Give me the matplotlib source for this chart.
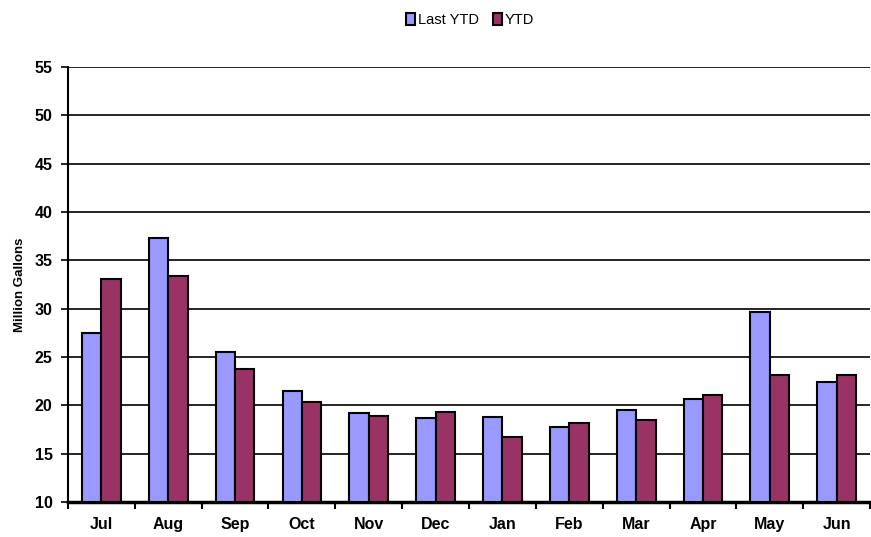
import numpy as np
import matplotlib.pyplot as plt
from matplotlib.patches import Patch

plt.rcParams['font.family'] = ['Liberation Sans', 'DejaVu Sans']

months = ['Jul', 'Aug', 'Sep', 'Oct', 'Nov', 'Dec', 'Jan', 'Feb', 'Mar', 'Apr', 'May', 'Jun']
last_ytd = [27.5, 37.3, 25.5, 21.5, 19.2, 18.7, 18.8, 17.8, 19.5, 20.7, 29.7, 22.4]
ytd = [33.1, 33.4, 23.8, 20.4, 18.9, 19.3, 16.7, 18.2, 18.5, 21.1, 23.1, 23.1]
yticks = [10, 15, 20, 25, 30, 35, 40, 45, 50, 55]

fig = plt.figure(figsize=(8.71, 5.37), dpi=100)
ax = fig.add_axes([0.078, 0.065, 0.921, 0.81])

x = np.arange(len(months))
w = 0.29
ax.bar(x - w / 2, np.array(last_ytd) - 10, w, bottom=10, color='#9999FF',
       edgecolor='black', linewidth=1.5, zorder=3)
ax.bar(x + w / 2, np.array(ytd) - 10, w, bottom=10, color='#993366',
       edgecolor='black', linewidth=1.5, zorder=3)

ax.set_xlim(-0.5, len(months) - 0.5)
ax.set_ylim(10, 55)
ax.set_yticks(yticks)
ax.set_yticklabels([str(t) for t in yticks], fontweight='bold', fontsize=11.5)
ax.yaxis.grid(True, color='black', linewidth=1.2, zorder=0)

# month names in the middle, tick marks between the categories
ax.set_xticks(np.arange(len(months) + 1) - 0.5)
ax.set_xticklabels([])
ax.set_xticks(x, minor=True)
ax.set_xticklabels(months, minor=True, fontweight='bold', fontsize=11.5)
ax.tick_params(axis='x', which='minor', length=0, pad=11)
ax.tick_params(axis='x', which='major', length=5, width=1.5, direction='out')
ax.tick_params(axis='y', length=5, width=1.2, direction='out', pad=6)

for s in ['top', 'right']:
    ax.spines[s].set_visible(False)
ax.spines['left'].set_linewidth(1.5)
ax.spines['bottom'].set_linewidth(2.5)

ax.set_ylabel('Million Gallons', fontweight='bold', fontsize=9.5, labelpad=6)

handles = [Patch(facecolor='#9999FF', edgecolor='black', linewidth=1.5),
           Patch(facecolor='#993366', edgecolor='black', linewidth=1.5)]
fig.legend(handles, ['Last YTD', 'YTD'], loc='upper center', bbox_to_anchor=(0.54, 1.0),
           ncol=2, frameon=False, fontsize=10.5, handlelength=0.6, handleheight=0.8,
           handletextpad=0.2, columnspacing=1.0)

fig.savefig('out.png', dpi=100)
